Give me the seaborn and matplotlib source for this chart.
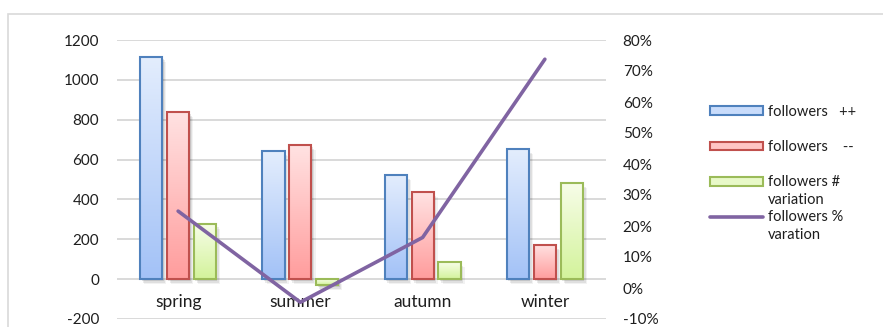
import numpy as np
import pandas as pd
import matplotlib
matplotlib.use("Agg")
import matplotlib.pyplot as plt
import seaborn as sns
from matplotlib.colors import LinearSegmentedColormap
from matplotlib.patches import Rectangle, Patch
from matplotlib.lines import Line2D
import matplotlib.patheffects as pe
from matplotlib.ticker import PercentFormatter, FixedLocator

# ---- data -------------------------------------------------------------
seasons = ["spring", "summer", "autumn", "winter"]
followers_up = [1115, 642, 522, 652]
followers_down = [838, 672, 437, 171]
followers_num_var = [277, -30, 85, 481]
followers_pct_var = [0.248, -0.046, 0.163, 0.738]

series_names = ["followers   ++", "followers    --", "followers #", "followers %"]
series_second_line = [None, None, "variation", "varation"]

left_ticks = [-200, 0, 200, 400, 600, 800, 1000, 1200]
right_ticks = [-0.1, 0.0, 0.1, 0.2, 0.3, 0.4, 0.5, 0.6, 0.7, 0.8]

# ---- style ------------------------------------------------------------
edge_colors = ["#4f81bd", "#c0504d", "#9bbb59"]
grad_top = ["#e3edfd", "#ffe2e2", "#f7fde8"]
grad_bottom = ["#a3c2f7", "#ff9d9d", "#d3f39b"]
legend_fill = ["#c9dcfb", "#ffc4c4", "#e8f9c8"]
line_color = "#8064a2"
text_color = "#1e1e1e"

sns.set_theme(style="white")
plt.rcParams["font.family"] = ["Lato", "DejaVu Sans"]
plt.rcParams["text.color"] = text_color
plt.rcParams["axes.unicode_minus"] = False

W, H = 883, 327
fig = plt.figure(figsize=(W / 100, H / 100), dpi=100)
ax = fig.add_axes([117 / W, (H - 319) / H, 489 / W, 279 / H])

df = pd.DataFrame({
    "season": seasons * 3,
    "series": [series_names[0]] * 4 + [series_names[1]] * 4 + [series_names[2]] * 4,
    "value": followers_up + followers_down + followers_num_var,
})

sns.barplot(data=df, x="season", y="value", hue="series",
            hue_order=series_names[:3], order=seasons,
            palette=grad_bottom, saturation=1, width=0.66, gap=0.18,
            legend=False, ax=ax, zorder=2)

# vertical gradient fill, soft drop shadow and coloured outline per bar
for k, cont in enumerate(ax.containers):
    cmap = LinearSegmentedColormap.from_list(f"g{k}", [grad_bottom[k], grad_top[k]])
    for bar in cont:
        x0, w = bar.get_x(), bar.get_width()
        y_a = bar.get_y()
        y_b = y_a + bar.get_height()
        ylo, yhi = min(y_a, y_b), max(y_a, y_b)
        for off, alpha in [((1.0, -1.5), 0.10), ((2.0, -2.5), 0.08), ((3.0, -3.5), 0.05)]:
            sh = Rectangle((x0, ylo), w, yhi - ylo, facecolor="none", edgecolor="none",
                           zorder=1.5)
            sh.set_path_effects([pe.SimplePatchShadow(offset=off, shadow_rgbFace="black",
                                                      alpha=alpha)])
            ax.add_patch(sh)
        grad = np.linspace(0, 1, 64).reshape(-1, 1)
        im = ax.imshow(grad, cmap=cmap, origin="lower", aspect="auto",
                       extent=[x0, x0 + w, ylo, yhi], zorder=1.8, interpolation="bicubic")
        im.set_clip_path(bar)
        bar.set_facecolor("none")
        bar.set_edgecolor(edge_colors[k])
        bar.set_linewidth(1.5)
        bar.set_zorder(2)

ax.set_ylim(left_ticks[0], left_ticks[-1])
ax.yaxis.set_major_locator(FixedLocator(left_ticks))
ax.set_xlim(-0.5, len(seasons) - 0.5)
ax.set_xlabel("")
ax.set_ylabel("")
ax.yaxis.grid(True, color="#d9d9d9", lw=1.4, zorder=0)
ax.xaxis.grid(False)
ax.set_axisbelow(True)
for s in ax.spines.values():
    s.set_visible(False)
ax.spines["bottom"].set_position(("data", 0))
ax.tick_params(axis="x", length=0, pad=11, labelsize=12.5, labelcolor=text_color)
ax.tick_params(axis="y", length=0, pad=13, labelsize=11, labelcolor=text_color)
ax.patch.set_visible(False)

# percentage line on the secondary axis
ax2 = ax.twinx()
sns.pointplot(x=seasons, y=followers_pct_var, order=seasons, ax=ax2, color=line_color,
              marker="", linewidth=2.6, errorbar=None)
ax2.set_ylim(right_ticks[0], right_ticks[-1])
ax2.yaxis.set_major_locator(FixedLocator(right_ticks))
ax2.yaxis.set_major_formatter(PercentFormatter(1.0, decimals=0))
ax2.set_xlim(-0.5, len(seasons) - 0.5)
ax2.set_ylabel("")
ax2.grid(False)
for s in ax2.spines.values():
    s.set_visible(False)
ax2.tick_params(axis="y", length=0, pad=12, labelsize=11, labelcolor=text_color)

# outer chart frame
fig.add_artist(Rectangle((8 / W, -0.5), 1.0, 0.5 + (H - 14) / H, transform=fig.transFigure,
                         fill=False, edgecolor="#d9d9d9", lw=1.2))

# legend
handles = [Patch(facecolor=legend_fill[i], edgecolor=edge_colors[i], lw=1.5) for i in range(3)]
handles.append(Line2D([0], [0], color=line_color, lw=2.6))
leg = fig.legend(handles, series_names, loc="upper left",
                 bbox_to_anchor=(710 / W, (H - 105) / H), frameon=False,
                 fontsize=10.5, handlelength=3.6, handleheight=0.55,
                 handletextpad=0.35, labelspacing=1.45, borderpad=0, borderaxespad=0)

fig.canvas.draw()
renderer = fig.canvas.get_renderer()
for txt, extra in zip(leg.get_texts(), series_second_line):
    if extra is None:
        continue
    bb = txt.get_window_extent(renderer)
    fig.text(bb.x0 / W, (bb.y0 - 18) / H, extra, fontsize=10.5, color=text_color,
             ha="left", va="bottom")

fig.savefig("out.png", dpi=100)
